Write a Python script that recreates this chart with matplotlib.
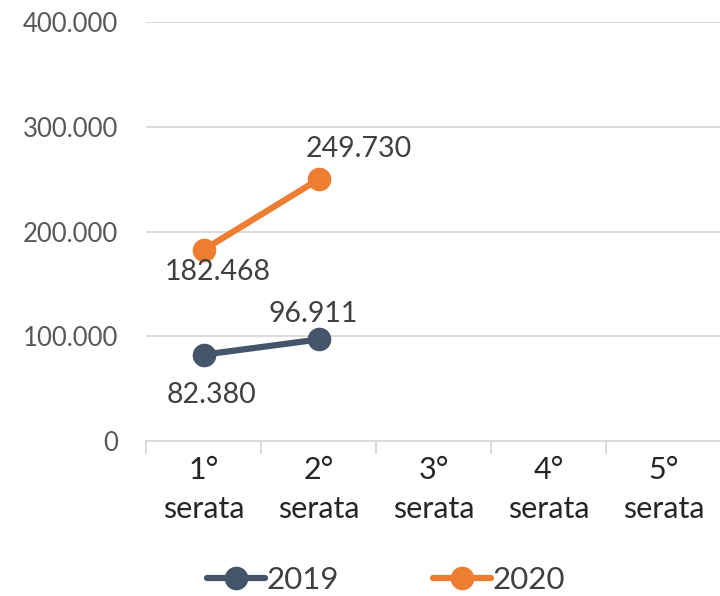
import matplotlib
matplotlib.use("Agg")
import matplotlib.pyplot as plt
from matplotlib.lines import Line2D

categories = ["1°\nserata", "2°\nserata", "3°\nserata", "4°\nserata", "5°\nserata"]
series_names = ["2019", "2020"]
values_2019 = [82380, 96911]
values_2020 = [182468, 249730]
yticks = [0, 100000, 200000, 300000, 400000]

# label offsets (points, dx, dy) for each data label
offsets_2019 = [(6, -29), (-4, 18)]
offsets_2020 = [(10, -16), (29, 22)]

colors = {"2019": "#44546A", "2020": "#ED7D31"}
plt.rcParams['font.family'] = ['Lato', 'DejaVu Sans']

def fmt(v):
    return f"{v:,.0f}".replace(",", ".")

fig = plt.figure(figsize=(7.2, 5.96), dpi=100)
ax = fig.add_axes([146/720, 155/596, 575/720, 419/596])
x = list(range(len(categories)))

ax.set_xlim(-0.5, len(categories) - 0.5)
ax.set_ylim(0, 400000)
for t in yticks[1:]:
    ax.axhline(t, color="#D9D9D9", lw=1.3, zorder=0)

handles = []
for name, vals, offs in [("2019", values_2019, offsets_2019),
                         ("2020", values_2020, offsets_2020)]:
    xs = x[:len(vals)]
    ax.plot(xs, vals, color=colors[name], lw=4.5, marker="o", ms=16,
            solid_capstyle="round", zorder=3)
    for xi, v, off in zip(xs, vals, offs):
        ax.annotate(fmt(v), (xi, v), xytext=off, textcoords="offset points",
                    ha="center", va="center", fontsize=20.5, color="#404040")
    handles.append(Line2D([0], [0], color=colors[name], lw=4.5, marker="o", ms=16,
                          solid_capstyle="round"))

ax.set_yticks(yticks)
ax.set_yticklabels([fmt(t) for t in yticks], fontsize=18.5, color="#595959")
ax.set_xticks([i - 0.5 for i in range(len(categories) + 1)], minor=False)
ax.set_xticklabels([])
ax.set_xticks(x, minor=True)
ax.set_xticklabels(categories, minor=True, fontsize=22, color="#262626", linespacing=1.45)
ax.tick_params(axis="x", which="major", length=9, color="#D9D9D9", width=1.3)
ax.tick_params(axis="x", which="minor", length=0, pad=11)
ax.tick_params(axis="y", length=0, pad=20)

for s in ["top", "right", "left"]:
    ax.spines[s].set_visible(False)
ax.spines["bottom"].set_color("#D9D9D9")
ax.spines["bottom"].set_linewidth(1.3)

fig.legend(handles, series_names, loc="center", bbox_to_anchor=(386/720, 1 - 580/596),
           ncol=2, frameon=False, fontsize=22.5, handlelength=1.85, columnspacing=3.0,
           handletextpad=0.05, labelcolor="#404040")

fig.savefig("out.png", dpi=100)
